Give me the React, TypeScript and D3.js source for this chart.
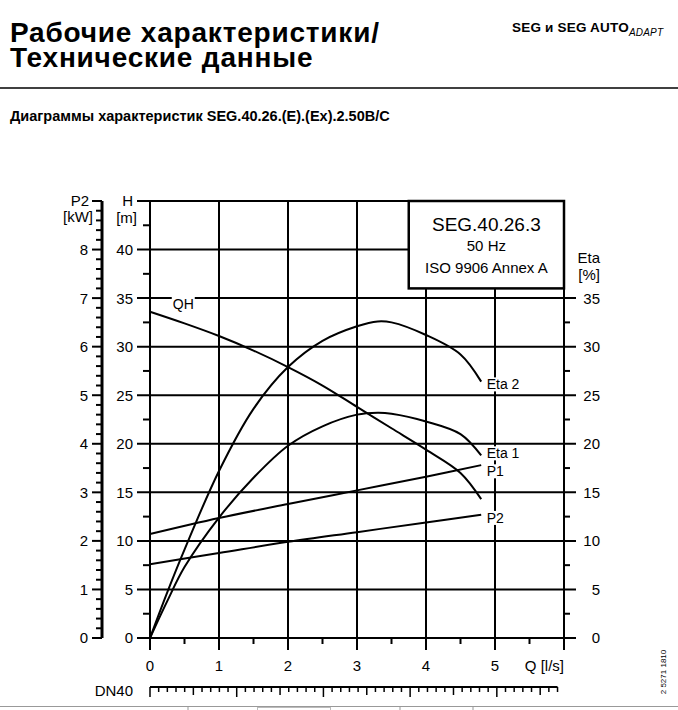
import React, { useEffect, useRef } from 'react';
import * as d3 from 'd3';

// QH curve, head in m
const qhFlow = [0, 0.5, 1, 1.5, 2, 2.5, 3, 3.5, 4, 4.5, 4.8];
const qhHead = [33.6, 32.4, 31.1, 29.6, 27.9, 26.0, 23.8, 21.6, 19.4, 17.0, 14.3];

// efficiency curves, %
const etaFlow = [0, 0.25, 0.5, 1, 1.5, 2, 2.5, 3, 3.3, 3.5, 4, 4.5, 4.8];
const eta1Values = [0, 3.8, 7.3, 12.4, 16.5, 19.8, 21.8, 23.0, 23.2, 23.1, 22.3, 21.0, 18.8];
const eta2Values = [0, 4.7, 9.1, 17.2, 23.6, 27.9, 30.6, 32.1, 32.6, 32.5, 31.2, 29.2, 26.4];

// power curves, kW
const powerFlow = [0, 1, 2, 3, 4, 4.8];
const p1Values = [2.14, 2.47, 2.76, 3.04, 3.32, 3.56];
const p2Values = [1.52, 1.75, 1.98, 2.18, 2.38, 2.54];

const qTicks = [0, 1, 2, 3, 4, 5];
const hTicks = [0, 5, 10, 15, 20, 25, 30, 35, 40];
const kwTicks = [0, 1, 2, 3, 4, 5, 6, 7, 8];
const etaTicks = [0, 5, 10, 15, 20, 25, 30, 35];

const FONT = '"Liberation Sans", Arial, sans-serif';

const App: React.FC = () => {
  const ref = useRef<SVGSVGElement | null>(null);

  useEffect(() => {
    if (!ref.current) return;
    const width = 678;
    const height = 710;

    const svg = d3.select(ref.current);
    svg.selectAll('*').remove();
    svg.attr('width', width).attr('height', height).style('font-family', FONT);

    const x = d3.scaleLinear().domain([0, 6]).range([150, 564]);
    const y = d3.scaleLinear().domain([0, 45]).range([638, 201]);
    const yKw = d3.scaleLinear().domain([0, 9]).range([638, 201]);
    const yEta = y;
    // DN40 pipe velocity, m/s -> l/s
    const pipeArea = Math.PI * 0.02 * 0.02 * 1000;
    const xVel = d3.scaleLinear().domain([0, 1]).range([x(0), x(pipeArea)]);

    // header
    svg.append('text').attr('x', 10).attr('y', 42).attr('font-size', 28).attr('font-weight', 'bold')
      .attr('letter-spacing', 0.8).text('Рабочие характеристики/');
    svg.append('text').attr('x', 10).attr('y', 67).attr('font-size', 28).attr('font-weight', 'bold')
      .attr('letter-spacing', 0.8).text('Технические данные');
    const brand = svg.append('text').attr('x', 512).attr('y', 32).attr('font-size', 13.5).attr('font-weight', 'bold')
      .attr('letter-spacing', 0.2);
    brand.append('tspan').text('SEG и SEG AUTO');
    brand.append('tspan').attr('font-size', 10).attr('font-style', 'italic').attr('font-weight', 'normal')
      .attr('dy', 4).text('ADAPT');
    svg.append('line').attr('x1', 0).attr('x2', width).attr('y1', 88).attr('y2', 88)
      .attr('stroke', '#000').attr('stroke-width', 1.5);
    svg.append('text').attr('x', 10).attr('y', 121).attr('font-size', 14.5).attr('font-weight', 'bold')
      .text('Диаграммы характеристик SEG.40.26.(E).(Ex).2.50B/C');

    const g = svg.append('g').attr('stroke', '#000').attr('fill', 'none');
    const boxTop = 45;
    const boxBottom = 36;
    const boxLeft = 3.75;

    // horizontal grid + H/Eta major ticks
    d3.range(0, 46, 5).forEach((h) => {
      const x2 = h > boxBottom ? x(6) : x(6) + 12;
      g.append('line').attr('x1', x(0) - 13).attr('x2', x2).attr('y1', y(h)).attr('y2', y(h))
        .attr('stroke-width', 2);
    });
    // minor H ticks (left) and Eta ticks (right)
    d3.range(2.5, 45, 5).forEach((h) => {
      g.append('line').attr('x1', x(0) - 7).attr('x2', x(0)).attr('y1', y(h)).attr('y2', y(h))
        .attr('stroke-width', 2);
      if (h < boxBottom) {
        g.append('line').attr('x1', x(6)).attr('x2', x(6) + 6).attr('y1', y(h)).attr('y2', y(h))
          .attr('stroke-width', 2);
      }
    });
    // vertical grid + Q ticks
    d3.range(0, 7).forEach((q) => {
      g.append('line').attr('x1', x(q)).attr('x2', x(q)).attr('y1', y(45)).attr('y2', y(0) + 12)
        .attr('stroke-width', 2);
    });
    d3.range(0.5, 6, 1).forEach((q) => {
      g.append('line').attr('x1', x(q)).attr('x2', x(q)).attr('y1', y(0)).attr('y2', y(0) + 6)
        .attr('stroke-width', 2);
    });

    // curves
    const curve = (xs: number[], ys: number[], yScale: d3.ScaleLinear<number, number>) => {
      const line = d3.line<number>()
        .x((_, i) => x(xs[i]))
        .y((d) => yScale(d))
        .curve(d3.curveCatmullRom.alpha(0.5));
      g.append('path').attr('d', line(ys)).attr('stroke-width', 2);
    };
    curve(qhFlow, qhHead, y);
    curve(etaFlow, eta1Values, yEta);
    curve(etaFlow, eta2Values, yEta);
    curve(powerFlow, p1Values, yKw);
    curve(powerFlow, p2Values, yKw);

    // curve labels with white background
    const label = (txt: string, lx: number, ly: number) => {
      const t = svg.append('text').attr('x', lx).attr('y', ly).attr('font-size', 14).text(txt);
      const bb = (t.node() as SVGTextElement).getBBox();
      svg.insert('rect', () => t.node() as SVGTextElement)
        .attr('x', bb.x - 1).attr('y', bb.y + 1).attr('width', bb.width + 2).attr('height', bb.height - 2)
        .attr('fill', '#fff');
    };
    label('QH', x(0.33), y(33.9));
    label('Eta 2', x(4.88), yEta(25.6));
    label('Eta 1', x(4.88), yEta(18.5));
    label('P1', x(4.88), yKw(3.33));
    label('P2', x(4.88), yKw(2.37));

    // legend box
    svg.append('rect').attr('x', x(boxLeft)).attr('y', y(boxTop)).attr('width', x(6) - x(boxLeft))
      .attr('height', y(boxBottom) - y(boxTop)).attr('fill', '#fff').attr('stroke', '#000').attr('stroke-width', 2.5);
    const cx = (x(boxLeft) + x(6)) / 2;
    svg.append('text').attr('x', cx).attr('y', 231).attr('text-anchor', 'middle').attr('font-size', 19)
      .text('SEG.40.26.3');
    svg.append('text').attr('x', cx).attr('y', 251).attr('text-anchor', 'middle').attr('font-size', 15)
      .text('50 Hz');
    svg.append('text').attr('x', cx).attr('y', 273).attr('text-anchor', 'middle').attr('font-size', 15)
      .text('ISO 9906 Annex A');

    // P2 [kW] axis
    const axX = 102;
    g.append('line').attr('x1', axX).attr('x2', axX).attr('y1', yKw(9)).attr('y2', yKw(0)).attr('stroke-width', 3);
    d3.range(0, 9.01, 0.2).forEach((k) => {
      const major = Math.abs(k - Math.round(k)) < 1e-6;
      g.append('line').attr('x1', axX - (major ? 10 : 6)).attr('x2', axX).attr('y1', yKw(k)).attr('y2', yKw(k))
        .attr('stroke-width', 2);
    });

    const tick = svg.append('g').attr('font-size', 15).attr('fill', '#000');
    kwTicks.forEach((k) => {
      tick.append('text').attr('x', 88).attr('y', yKw(k)).attr('dy', '0.36em').attr('text-anchor', 'end').text(k);
    });
    tick.append('text').attr('x', 89).attr('y', yKw(9)).attr('dy', '0.36em').attr('text-anchor', 'end').text('P2');
    tick.append('text').attr('x', 93).attr('y', yKw(9) + 16).attr('dy', '0.36em').attr('text-anchor', 'end').text('[kW]');

    hTicks.forEach((h) => {
      tick.append('text').attr('x', 133).attr('y', y(h)).attr('dy', '0.36em').attr('text-anchor', 'end').text(h);
    });
    tick.append('text').attr('x', 133).attr('y', y(45)).attr('dy', '0.36em').attr('text-anchor', 'end').text('H');
    tick.append('text').attr('x', 137).attr('y', y(45) + 17).attr('dy', '0.36em').attr('text-anchor', 'end').text('[m]');

    etaTicks.forEach((e) => {
      tick.append('text').attr('x', 600).attr('y', yEta(e)).attr('dy', '0.36em').attr('text-anchor', 'end').text(e);
    });
    tick.append('text').attr('x', 600).attr('y', 258).attr('dy', '0.36em').attr('text-anchor', 'end').text('Eta');
    tick.append('text').attr('x', 600).attr('y', 275).attr('dy', '0.36em').attr('text-anchor', 'end').text('[%]');

    qTicks.forEach((q) => {
      tick.append('text').attr('x', x(q)).attr('y', 666).attr('dy', '0.36em').attr('text-anchor', 'middle').text(q);
    });
    tick.append('text').attr('x', x(6)).attr('y', 666).attr('dy', '0.36em').attr('text-anchor', 'end').text('Q [l/s]');

    // DN40 velocity scale
    const vMax = 4.7;
    const dnY = 687;
    g.append('line').attr('x1', xVel(0)).attr('x2', xVel(vMax)).attr('y1', dnY).attr('y2', dnY).attr('stroke-width', 2);
    d3.range(0, vMax + 0.001, 0.1).forEach((v) => {
      const tenth = Math.round(v * 10);
      const len = tenth % 10 === 0 ? 10 : tenth % 5 === 0 ? 8 : 5;
      g.append('line').attr('x1', xVel(v)).attr('x2', xVel(v)).attr('y1', dnY).attr('y2', dnY + len)
        .attr('stroke-width', 1.5);
    });
    tick.append('text').attr('x', 133).attr('y', 691).attr('dy', '0.36em').attr('text-anchor', 'end').text('DN40');

    // drawing number
    svg.append('text').attr('transform', 'translate(666,672) rotate(-90)').attr('text-anchor', 'middle')
      .attr('font-size', 8).text('2 5271 1810');

    // page footer fragments
    const foot = svg.append('g').attr('stroke', '#999').attr('stroke-width', 1);
    foot.append('line').attr('x1', 0).attr('x2', width).attr('y1', 706.5).attr('y2', 706.5);
    [188, 400, 473].forEach((fx) => {
      foot.append('line').attr('x1', fx).attr('x2', fx).attr('y1', 706.5).attr('y2', 710);
    });
    foot.append('rect').attr('x', 257.5).attr('y', 707.5).attr('width', 73).attr('height', 4)
      .attr('fill', 'none').attr('stroke', '#bbb');
  }, []);

  return <svg ref={ref} style={{ position: 'absolute', left: 0, top: 0 }}></svg>;
};

export default App;
